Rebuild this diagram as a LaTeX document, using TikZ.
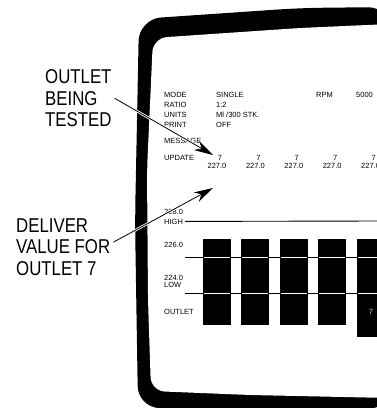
\documentclass[tikz,border=0pt]{standalone}
\usepackage{fontspec}
\setmainfont{Liberation Sans}
\newfontfamily\calloutfont[FakeStretch=0.84]{Liberation Sans}
\usetikzlibrary{arrows.meta,positioning}

\begin{document}
\begin{tikzpicture}[x=1pt, y=-1pt]
\tikzstyle{callout} = [inner sep=0pt, align=left, font=\calloutfont\fontsize{20}{21.5}\selectfont]
\tikzstyle{screentext} = [inner sep=0pt, anchor=base west, font=\fontsize{7.5}{9}\selectfont]
\tikzstyle{reading} = [inner sep=0pt, anchor=base, font=\fontsize{7.5}{9}\selectfont]
\tikzstyle{arrow} = [line width=0.8pt, -{Stealth[length=19pt,width=10.5pt,inset=6pt]}, preaction={draw=white, line width=2.5pt, -}]
\tikzstyle{limit} = [line width=0.9pt]

\useasboundingbox (0,0) rectangle (377,408);

% screen frame
\fill[rounded corners=22pt] (390,7) -- (300,8) -- (139,19) -- (137,120) -- (135,220) -- (138,408) -- (390,409) -- cycle;
\fill[white, rounded corners=14pt] (390,24) -- (300,28) -- (153,38) -- (147,170) -- (148,300) -- (151,391) -- (250,395) -- (390,398) -- cycle;

% header
\node[screentext] (mode) at (164,97) {MODE};
\node[screentext] (ratio) at (164,107) {RATIO};
\node[screentext] (units) at (164,117) {UNITS};
\node[screentext] (print) at (164,127) {PRINT};
\node[screentext] (message) at (164,143) {MESSAGE};
\node[screentext] (update) at (164,160) {UPDATE};
\node[screentext] (modeval) at (216,97) {SINGLE};
\node[screentext] (ratioval) at (216,107) {1:2};
\node[screentext] (unitsval) at (216,117) {Ml /300 STK.};
\node[screentext] (printval) at (216,127) {OFF};
\node[screentext] (rpm) at (316,97) {RPM};
\node[screentext] (rpmval) at (356,97) {5000};

% outlet readings
\foreach \i in {0,...,4} {
  \node[reading] (outlet\i) at (220+38.4*\i,160) {7};
  \node[reading] (value\i) at (217+38.4*\i,168) {227.0};
}

% limits
\node[screentext] (highval) at (164,214) {228.0};
\node[screentext] (high) at (164,224) {HIGH};
\node[screentext] (midval) at (164,247) {226.0};
\node[screentext] (lowval) at (164,280) {224.0};
\node[screentext] (low) at (164,287) {LOW};
\node[screentext] (outletrow) at (164,314) {OUTLET};

\draw[limit] ([xshift=2pt]high.east) -- (380,221);
\draw[limit] (185,257) -- (380,257);
\draw[limit] (185,293) -- (380,293);

% bars
\foreach \i in {0,...,3} {
  \fill (203+38.4*\i,239) rectangle ++(28,86);
  \draw[limit, white] (204+38.4*\i,257) -- ++(26,0);
  \draw[limit, white] (204+38.4*\i,293) -- ++(26,0);
}
\fill (357,239) rectangle (390,337);
\draw[limit, white] (358,257) -- (380,257);
\draw[limit, white] (358,293) -- (380,293);
\node[reading, text=white!85!black] (barlabel) at (371,314) {7};

% callouts
\node[callout, anchor=north west] (tested) at (45,69.5) {OUTLET\\BEING\\TESTED};
\node[callout, anchor=north west] (deliver) at (16,218.5) {DELIVER\\VALUE FOR\\OUTLET 7};

\coordinate (tip1) at (213,155);
\coordinate (tip2) at (213,188);
\draw[arrow] ([xshift=3pt]tested.east) -- (tip1);
\draw[arrow] ([xshift=3pt,yshift=5pt]deliver.east) -- (tip2);
\end{tikzpicture}
\end{document}
